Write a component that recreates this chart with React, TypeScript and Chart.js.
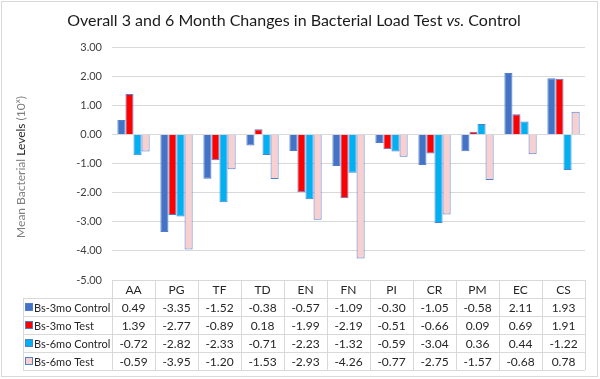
import React, { useEffect, useRef } from "react";
import { Chart, registerables } from "chart.js";

Chart.register(...registerables);

const categories = ["AA", "PG", "TF", "TD", "EN", "FN", "PI", "CR", "PM", "EC", "CS"];
const seriesNames = ["Bs-3mo Control", "Bs-3mo Test", "Bs-6mo Control", "Bs-6mo Test"];
const control3mo = [0.49, -3.35, -1.52, -0.38, -0.57, -1.09, -0.3, -1.05, -0.58, 2.11, 1.93];
const test3mo = [1.39, -2.77, -0.89, 0.18, -1.99, -2.19, -0.51, -0.66, 0.09, 0.69, 1.91];
const control6mo = [-0.72, -2.82, -2.33, -0.71, -2.23, -1.32, -0.59, -3.04, 0.36, 0.44, -1.22];
const test6mo = [-0.59, -3.95, -1.2, -1.53, -2.93, -4.26, -0.77, -2.75, -1.57, -0.68, 0.78];
const seriesColors = ["#4472C4", "#FF0000", "#00B0F0", "#F9D0D0"];
const borderBlue = "#4F7FD0";

const FONT = "Lato, 'Open Sans', sans-serif";

const decorPlugin = {
  id: "decor",
  beforeDraw(chart: any) {
    const ctx = chart.ctx;
    ctx.save();
    ctx.fillStyle = "#ffffff";
    ctx.fillRect(0, 0, chart.width, chart.height);
    ctx.strokeStyle = "#D9D9D9";
    ctx.lineWidth = 1;
    ctx.strokeRect(1.5, 1.5, 596, 375);
    ctx.restore();
  },
  afterDraw(chart: any) {
    const ctx = chart.ctx;
    const area = chart.chartArea;
    const xs = chart.scales.x;
    ctx.save();

    // Title with italic "vs."
    const parts = [
      { t: "Overall 3 and 6 Month Changes in Bacterial Load Test ", f: `16px ${FONT}` },
      { t: "vs.", f: `italic 16px ${FONT}` },
      { t: " Control", f: `16px ${FONT}` },
    ];
    let total = 0;
    parts.forEach((p) => {
      ctx.font = p.f;
      total += ctx.measureText(p.t).width;
    });
    let tx = 294 - total / 2;
    ctx.fillStyle = "#1a1a1a";
    ctx.textBaseline = "middle";
    ctx.textAlign = "left";
    parts.forEach((p) => {
      ctx.font = p.f;
      ctx.fillText(p.t, tx, 21);
      tx += ctx.measureText(p.t).width;
    });

    // Y-axis title (rotated)
    ctx.save();
    ctx.translate(21, 167);
    ctx.rotate(-Math.PI / 2);
    const yparts = [
      { t: "Mean Bacterial ", f: `12px ${FONT}`, c: "#7F7F7F", dy: 0 },
      { t: "Levels", f: `12px ${FONT}`, c: "#262626", dy: 0 },
      { t: " (10", f: `12px ${FONT}`, c: "#7F7F7F", dy: 0 },
      { t: "x", f: `8px ${FONT}`, c: "#7F7F7F", dy: -4 },
      { t: ")", f: `12px ${FONT}`, c: "#7F7F7F", dy: 0 },
    ];
    let yw = 0;
    yparts.forEach((p) => {
      ctx.font = p.f;
      yw += ctx.measureText(p.t).width;
    });
    let yx = -yw / 2;
    yparts.forEach((p) => {
      ctx.font = p.f;
      ctx.fillStyle = p.c;
      ctx.fillText(p.t, yx, p.dy);
      yx += ctx.measureText(p.t).width;
    });
    ctx.restore();

    // Data table
    const left = area.left;
    const right = area.right;
    const top = area.bottom;
    const rowH = 18;
    const legendLeft = 23;
    const n = categories.length;
    const colW = (right - left) / n;
    const rows = [control3mo, test3mo, control6mo, test6mo];

    ctx.strokeStyle = "#D9D9D9";
    ctx.lineWidth = 1;
    ctx.beginPath();
    ctx.moveTo(left, Math.round(top) + 0.5);
    ctx.lineTo(right, Math.round(top) + 0.5);
    for (let r = 1; r <= rows.length + 1; r++) {
      const y = Math.round(top + r * rowH) + 0.5;
      ctx.moveTo(legendLeft, y);
      ctx.lineTo(right, y);
    }
    for (let c = 0; c <= n; c++) {
      const x = Math.round(left + c * colW) + 0.5;
      ctx.moveTo(x, top);
      ctx.lineTo(x, top + (rows.length + 1) * rowH);
    }
    ctx.moveTo(legendLeft + 0.5, top + rowH);
    ctx.lineTo(legendLeft + 0.5, top + (rows.length + 1) * rowH);
    ctx.stroke();

    ctx.font = `12px ${FONT}`;
    ctx.fillStyle = "#262626";
    ctx.textAlign = "center";
    ctx.textBaseline = "middle";
    categories.forEach((cat, i) => {
      const cx = xs.getPixelForValue(i);
      ctx.fillText(cat, cx, top + rowH / 2 + 1);
    });
    rows.forEach((vals, r) => {
      const cy = top + rowH * (r + 1) + rowH / 2 + 1;
      ctx.font = `12px ${FONT}`;
      ctx.textAlign = "center";
      ctx.fillStyle = "#262626";
      vals.forEach((v, i) => {
        const cx = xs.getPixelForValue(i);
        ctx.fillText(v.toFixed(2), cx, cy);
      });
      // legend key
      ctx.fillStyle = seriesColors[r];
      ctx.fillRect(25.5, cy - 4.5, 7, 7);
      ctx.strokeStyle = borderBlue;
      ctx.strokeRect(25.5, cy - 4.5, 7, 7);
      ctx.fillStyle = "#262626";
      ctx.textAlign = "left";
      ctx.font = `11px ${FONT}`;
      ctx.fillText(seriesNames[r], 34, cy);
    });

    ctx.restore();
  },
};

export default function App() {
  const ref = useRef<HTMLCanvasElement | null>(null);

  useEffect(() => {
    if (!ref.current) return;
    const seriesData = [control3mo, test3mo, control6mo, test6mo];
    const chart = new Chart(ref.current, {
      type: "bar",
      data: {
        labels: categories,
        datasets: seriesData.map((d, i) => ({
          label: seriesNames[i],
          data: d,
          backgroundColor: seriesColors[i],
          borderColor: borderBlue,
          borderWidth: 1,
          barPercentage: 1,
          categoryPercentage: 0.75,
        })),
      },
      options: {
        responsive: false,
        animation: false,
        layout: { padding: { top: 47, bottom: 99, right: 15, left: 0 } },
        plugins: {
          legend: { display: false },
          title: { display: false },
          tooltip: { enabled: false },
        },
        scales: {
          x: {
            display: false,
            grid: { display: false },
          },
          y: {
            min: -5,
            max: 3,
            afterFit: (scale: any) => {
              scale.width = 112;
            },
            ticks: {
              stepSize: 1,
              padding: 10,
              color: "#404040",
              font: { family: FONT, size: 11 },
              callback: (v: any) => Number(v).toFixed(2),
            },
            grid: { color: "#D9D9D9", drawTicks: false },
            border: { display: false },
          },
        },
      },
      plugins: [decorPlugin],
    });
    return () => chart.destroy();
  }, []);

  return (
    <div style={{ position: "fixed", left: 0, top: 0, width: 600, height: 379, background: "#fff" }}>
      <canvas ref={ref} width={600} height={379} style={{ width: 600, height: 379, display: "block" }} />
    </div>
  );
}
